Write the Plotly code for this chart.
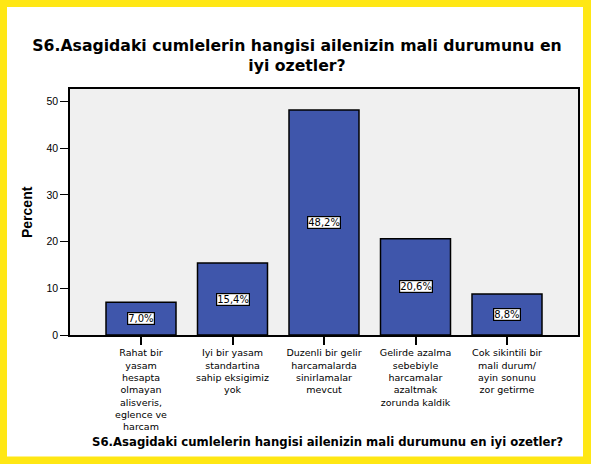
import plotly.graph_objects as go

categories = [
    "Rahat bir<br>yasam<br>hesapta<br>olmayan<br>alisveris,<br>eglence ve<br>harcam",
    "Iyi bir yasam<br>standartina<br>sahip eksigimiz<br>yok",
    "Duzenli bir gelir<br>harcamalarda<br>sinirlamalar<br>mevcut",
    "Gelirde azalma<br>sebebiyle<br>harcamalar<br>azaltmak<br>zorunda kaldik",
    "Cok sikintili bir<br>mali durum/<br>ayin sonunu<br>zor getirme",
]
percents = [7.0, 15.4, 48.2, 20.6, 8.8]
y_ticks = [0, 10, 20, 30, 40, 50]
title_text = "S6.Asagidaki cumlelerin hangisi ailenizin mali durumunu en<br>iyi ozetler?"
x_title = "S6.Asagidaki cumlelerin hangisi ailenizin mali durumunu en iyi ozetler?"
y_title = "Percent"

W, H = 591, 464
L, R, T, B = 70, 578, 89, 335  # plot box in pixels
FONT = "Liberation Sans, Arial, sans-serif"
WIDE = "DejaVu Sans, Verdana, sans-serif"

def px(x):
    return (x - L) / (R - L)

def py(y):
    return (B - y) / (B - T)

x_idx = list(range(len(categories)))

fig = go.Figure()
fig.add_trace(go.Bar(
    x=x_idx, y=percents,
    marker=dict(color="#3F56AB", line=dict(color="black", width=1.5)),
    width=0.765,
    hoverinfo="skip",
))

for i, v in enumerate(percents):
    fig.add_annotation(
        x=i, y=v / 2, xref="x", yref="y",
        text=("%.1f%%" % v).replace(".", ","),
        showarrow=False,
        font=dict(family=WIDE, size=10, color="black"),
        bgcolor="white", bordercolor="black", borderwidth=1.2, borderpad=0,
    )

# axis titles
fig.add_annotation(
    x=px(327), y=py(442), xref="paper", yref="paper",
    text="<b>" + x_title + "</b>", showarrow=False,
    font=dict(family=WIDE, size=11.7, color="black"),
    xanchor="center", yanchor="middle",
)
fig.add_annotation(
    x=px(27), y=py(212), xref="paper", yref="paper",
    text="<b>" + y_title + "</b>", showarrow=False, textangle=-90,
    font=dict(family=FONT, size=14, color="black"),
    xanchor="center", yanchor="middle",
)

# yellow frame
yellow = "#FFE714"
frame = [(0, 0, 7, H), (583, 0, W, H), (0, 0, W, 7), (0, 456.5, W, H)]
for x0, y0, x1, y1 in frame:
    fig.add_shape(type="rect", xref="paper", yref="paper",
                  x0=px(x0), x1=px(x1), y0=py(y1), y1=py(y0),
                  fillcolor=yellow, line=dict(width=0), layer="above")

fig.update_layout(
    width=W, height=H,
    margin=dict(l=L, r=W - R, t=T, b=H - B, pad=0),
    paper_bgcolor="white",
    plot_bgcolor="#F0F0F0",
    showlegend=False,
    title=dict(
        text="<b>" + title_text + "</b>",
        x=297 / W, xanchor="center",
        y=1 - 51 / H, yanchor="middle",
        font=dict(family=WIDE, size=15.7, color="black"),
    ),
    xaxis=dict(
        range=[-0.776, len(categories) - 1 + 0.776],
        tickmode="array", tickvals=x_idx, ticktext=categories,
        ticks="outside", ticklen=8, tickwidth=2, tickcolor="black",
        showline=True, linecolor="black", linewidth=1.5, mirror=True,
        showgrid=False, zeroline=False, tickangle=0,
        tickfont=dict(family=WIDE, size=9.5, color="black"),
        fixedrange=True,
    ),
    yaxis=dict(
        range=[0, 52.7],
        tickmode="array", tickvals=y_ticks, ticktext=[str(t) for t in y_ticks],
        ticks="outside", ticklen=8, tickwidth=1, tickcolor="black",
        showline=True, linecolor="black", linewidth=1.5, mirror=True,
        showgrid=False, zeroline=False,
        tickfont=dict(family=FONT, size=10.5, color="black"),
        fixedrange=True,
    ),
)

fig.write_html("out.html")
